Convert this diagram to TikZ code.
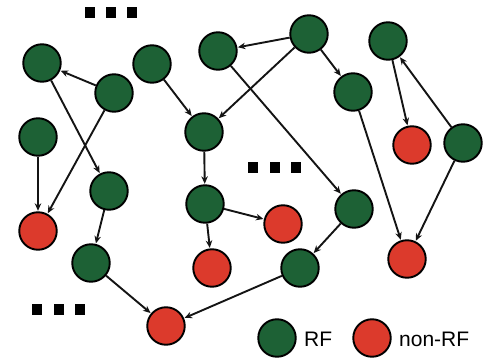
\documentclass[tikz,border=0pt]{standalone}
\usepackage{fontspec}
\setmainfont{Liberation Sans}
\usetikzlibrary{arrows.meta}
\definecolor{rfgreen}{HTML}{1D6135}
\definecolor{nonrfred}{HTML}{DC3A2C}
\begin{document}
\begin{tikzpicture}[x=1pt,y=-1pt,
  rf/.style={circle,draw=black,line width=1.9pt,fill=rfgreen,minimum size=37.5pt,inner sep=0pt},
  nonrf/.style={circle,draw=black,line width=1.9pt,fill=nonrfred,minimum size=37.5pt,inner sep=0pt},
  link/.style={line width=1.9pt,draw=black!92,-{Stealth[length=7.5pt,width=6.5pt]},shorten >=0.5pt},
  dotmark/.style={fill=black,draw=none,minimum width=10pt,minimum height=11pt,inner sep=0pt,rectangle},
  legendtext/.style={font=\fontsize{21}{23}\selectfont,anchor=west,inner sep=0pt}]
\useasboundingbox (0,0) rectangle (487,358);
% graph nodes
\node[rf] (A) at (42,63) {};
\node[rf] (B) at (114,93) {};
\node[rf] (C) at (38,137) {};
\node[rf] (D) at (152,64) {};
\node[rf] (E) at (218,51) {};
\node[rf] (F) at (204,132) {};
\node[rf] (G) at (109,191) {};
\node[rf] (H) at (309,34) {};
\node[rf] (I) at (353,92) {};
\node[rf] (J) at (388,41) {};
\node[nonrf] (K) at (412,145) {};
\node[rf] (L) at (463,143) {};
\node[nonrf] (M) at (38,231) {};
\node[rf] (N) at (91,263) {};
\node[rf] (O) at (205,204) {};
\node[nonrf] (P) at (212,268) {};
\node[nonrf] (Q) at (166,326) {};
\node[nonrf] (R) at (283,224) {};
\node[rf] (S) at (354,209) {};
\node[rf] (T) at (300,268) {};
\node[nonrf] (U) at (407,259) {};
% directed links
\draw[link] (B) -- (A);
\draw[link] (A) -- (G);
\draw[link] (B) -- (M);
\draw[link] (C) -- (M);
\draw[link] (G) -- (N);
\draw[link] (N) -- (Q);
\draw[link] (T) -- (Q);
\draw[link] (D) -- (F);
\draw[link] (H) -- (F);
\draw[link] (H) -- (E);
\draw[link] (H) -- (I);
\draw[link] (E) -- (S);
\draw[link] (F) -- (O);
\draw[link] (O) -- (P);
\draw[link] (O) -- (R);
\draw[link] (S) -- (T);
\draw[link] (I) -- (U);
\draw[link] (J) -- (K);
\draw[link] (L) -- (J);
\draw[link] (L) -- (U);
% ellipsis marks
\foreach \x [count=\i] in {90,111,132} \node[dotmark] (top\i) at (\x,13) {};
\foreach \x [count=\i] in {253,275,296} \node[dotmark] (mid\i) at (\x,168) {};
\foreach \x [count=\i] in {37,59,80} \node[dotmark] (bot\i) at (\x,309) {};
% legend
\node[rf] (legRF) at (277,338) {};
\node[legendtext] (legRFtext) at (304,339) {RF};
\node[nonrf] (legNon) at (372,338) {};
\node[legendtext] (legNontext) at (399,339) {non-RF};
\end{tikzpicture}
\end{document}
